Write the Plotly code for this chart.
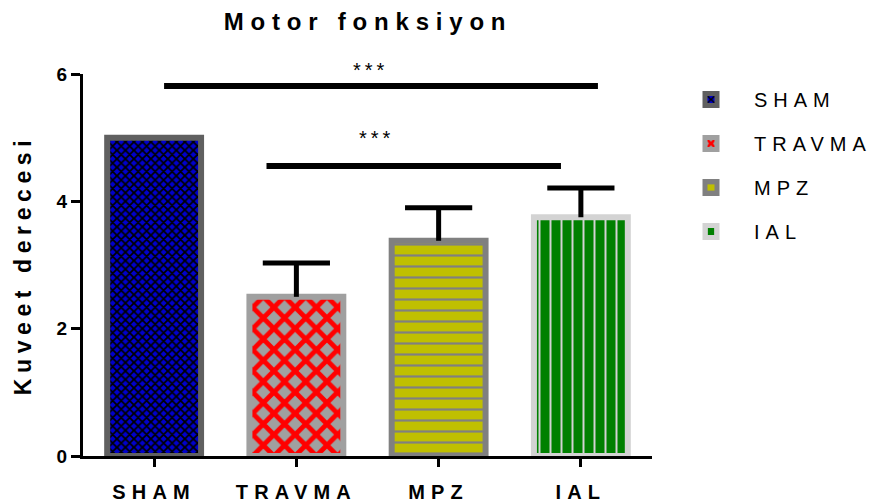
import plotly.graph_objects as go

# ---- data ----
categories = ["SHAM", "TRAVMA", "MPZ", "IAL"]
means = [5.0, 2.5, 3.38, 3.75]
errors = [0.0, 0.53, 0.52, 0.46]

fill_colors = ["#0000CC", "#A0A0A0", "#C0C000", "#008000"]
pattern_fg = ["#000000", "#FF0000", "#808080", "#D3D3D3"]
outline_colors = ["#606060", "#A0A0A0", "#808080", "#D3D3D3"]
pattern_shapes = ["x", "x", "-", "|"]
pattern_sizes = [6, 15, 11, 11]
pattern_solidity = [0.5, 0.55, 0.2, 0.18]

y_ticks = [0, 2, 4, 6]

# significance brackets (data coordinates)
sig_x0 = [0.07, 0.79]
sig_x1 = [3.12, 2.86]
sig_y = [5.81, 4.555]
sig_text_x = [1.52, 1.565]
sig_text_y = [6.06, 4.99]
sig_labels = ["***", "***"]

title_text = "Motor fonksiyon"
y_title = "Kuveet derecesi"

FONT = "Liberation Sans, Arial, sans-serif"
Y_MAX = 6


def spaced(text, px):
    return f'<span style="letter-spacing:{px}px">{text}</span>'


fig = go.Figure()
for i, cat in enumerate(categories):
    fig.add_trace(go.Bar(
        x=[cat], y=[means[i]],
        name=spaced(cat, 6),
        legendgroup=cat,
        marker=dict(
            color=fill_colors[i],
            line=dict(color=outline_colors[i], width=6),
            pattern=dict(shape=pattern_shapes[i], fillmode="overlay",
                         fgcolor=pattern_fg[i], fgopacity=1,
                         size=pattern_sizes[i], solidity=pattern_solidity[i]),
        ),
    ))

# upper-only error bars (stem + top cap), drawn from the data arrays
err_cats = [c for c, e in zip(categories, errors) if e > 0]
err_tops = [m + e for m, e in zip(means, errors) if e > 0]
err_vals = [e for e in errors if e > 0]
fig.add_trace(go.Scatter(
    x=err_cats, y=err_tops, mode="markers", showlegend=False, hoverinfo="skip",
    marker=dict(symbol="line-ew", size=48, color="black",
                line=dict(color="black", width=5)),
    error_y=dict(type="data", array=[0] * len(err_vals), arrayminus=err_vals,
                 symmetric=False, color="black", thickness=5, width=0),
))

shapes = []
for x0, x1, y in zip(sig_x0, sig_x1, sig_y):
    shapes.append(dict(type="line", xref="x", yref="y", x0=x0, x1=x1, y0=y, y1=y,
                       line=dict(color="black", width=6)))

annotations = []
for tx, ty, lab in zip(sig_text_x, sig_text_y, sig_labels):
    annotations.append(dict(x=tx, y=ty / Y_MAX, xref="x", yref="paper", text=spaced(lab, 4),
                            showarrow=False, yanchor="middle", xanchor="center",
                            font=dict(family=FONT, size=20, color="black")))

fig.update_layout(
    width=876, height=503,
    margin=dict(l=83, r=224, t=74, b=47, pad=0),
    plot_bgcolor="white", paper_bgcolor="white",
    barmode="overlay", bargap=0.34,
    showlegend=True,
    title=dict(text=spaced(title_text, 6.8), x=368 / 876, xref="container", xanchor="center",
               y=1 - 22 / 503, yref="container", yanchor="middle",
               font=dict(family=FONT, size=24, color="black", weight="bold")),
    legend=dict(x=668 / 876, y=1 - 80 / 503, xref="container", yref="container",
                xanchor="left", yanchor="top",
                font=dict(family=FONT, size=20, color="black"),
                itemwidth=76, tracegroupgap=15, bgcolor="rgba(0,0,0,0)"),
    shapes=shapes,
    annotations=annotations,
)

fig.update_xaxes(
    type="category", range=[-0.5, 3.5],
    tickmode="array", tickvals=categories, ticktext=[spaced(c, 6.2) for c in categories],
    showline=True, linecolor="black", linewidth=3,
    ticks="outside", ticklen=8, tickwidth=3, tickcolor="black",
    tickfont=dict(family=FONT, size=20, color="black", weight="bold"),
    ticklabelstandoff=8,
    showgrid=False, zeroline=False, automargin=False,
)
fig.update_yaxes(
    range=[0, Y_MAX], tickmode="array", tickvals=y_ticks, ticktext=[str(v) for v in y_ticks],
    showline=True, linecolor="black", linewidth=3,
    ticks="outside", ticklen=9, tickwidth=3, tickcolor="black",
    tickfont=dict(family=FONT, size=19, color="black", weight="bold"),
    title=dict(text=spaced(y_title, 5.6), standoff=19,
               font=dict(family=FONT, size=23, color="black", weight="bold")),
    showgrid=False, zeroline=False, automargin=False,
)

fig.write_html("out.html", config={"displayModeBar": False},
               post_script="document.body.style.margin='0';document.body.style.overflow='hidden';")
